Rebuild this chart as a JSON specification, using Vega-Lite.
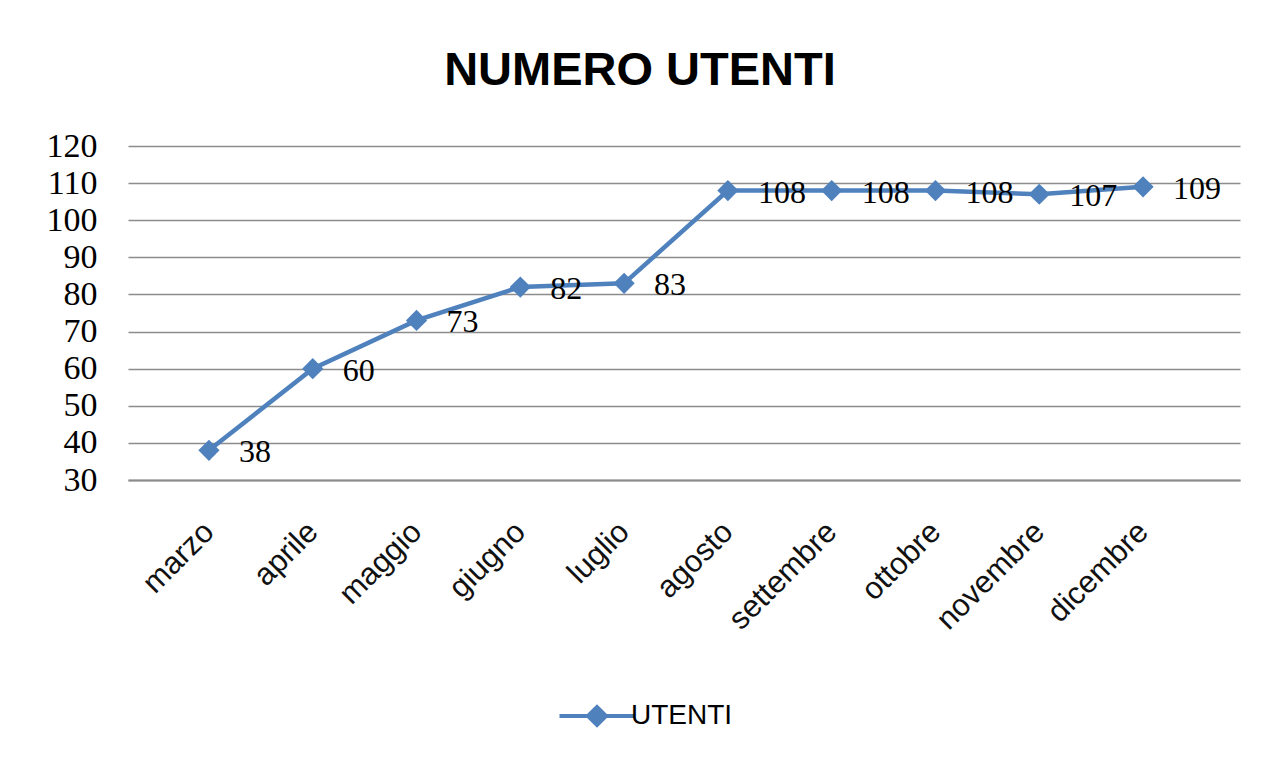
{
  "$schema": "https://vega.github.io/schema/vega-lite/v6.json",
  "autosize": "none",
  "width": 1112,
  "height": 334,
  "padding": {"left": 128, "top": 146, "right": 35, "bottom": 282},
  "background": "white",
  "config": {"view": {"stroke": null}},
  "title": {
    "text": "NUMERO UTENTI",
    "font": "Liberation Sans",
    "fontSize": 47,
    "fontWeight": "bold",
    "color": "black",
    "anchor": "middle",
    "frame": "group",
    "baseline": "alphabetic",
    "offset": 59,
    "dx": -44,
    "dy": 62
  },
  "data": {
    "values": [
      {"mese": "marzo", "utenti": 38},
      {"mese": "aprile", "utenti": 60},
      {"mese": "maggio", "utenti": 73},
      {"mese": "giugno", "utenti": 82},
      {"mese": "luglio", "utenti": 83},
      {"mese": "agosto", "utenti": 108},
      {"mese": "settembre", "utenti": 108},
      {"mese": "ottobre", "utenti": 108},
      {"mese": "novembre", "utenti": 107},
      {"mese": "dicembre", "utenti": 109}
    ]
  },
  "encoding": {
    "x": {
      "field": "mese",
      "type": "ordinal",
      "sort": null,
      "scale": {"type": "point", "padding": 0.857, "align": 0.455},
      "axis": {
        "title": null,
        "labelAngle": -45,
        "labelAlign": "right",
        "labelBaseline": "middle",
        "labelFont": "Liberation Sans",
        "labelFontSize": 31,
        "labelColor": "#111111",
        "labelPadding": 47,
        "labelOffset": 0,
        "ticks": false,
        "domain": true,
        "domainColor": "#8c8c8c",
        "domainWidth": 2,
        "grid": false
      }
    },
    "y": {
      "field": "utenti",
      "type": "quantitative",
      "scale": {"domain": [30, 120], "nice": false, "zero": false},
      "axis": {
        "title": null,
        "values": [30, 40, 50, 60, 70, 80, 90, 100, 110, 120],
        "labelFont": "Liberation Serif",
        "labelFontSize": 34,
        "labelColor": "black",
        "labelPadding": 31,
        "ticks": false,
        "domain": false,
        "grid": true,
        "gridColor": "#8c8c8c",
        "gridWidth": 1.5
      }
    }
  },
  "layer": [
    {
      "mark": {"type": "line", "strokeWidth": 4.5},
      "encoding": {
        "color": {
          "datum": "UTENTI",
          "scale": {"range": ["#4F81BD"]},
          "legend": {
            "title": null,
            "orient": "none",
            "legendX": 455,
            "legendY": 556,
            "padding": 0,
            "symbolType": "M-3.75,0L3.75,0M-0.9,0L0,-0.9L0.9,0L0,0.9Z",
            "symbolSize": 400,
            "symbolStrokeWidth": 4,
            "symbolFillColor": "#4F81BD",
            "symbolStrokeColor": "#4F81BD",
            "labelFont": "Liberation Sans",
            "labelFontSize": 28,
            "labelColor": "black",
            "labelOffset": 20
          }
        }
      }
    },
    {
      "mark": {"type": "point", "shape": "diamond", "filled": true, "size": 450, "opacity": 1},
      "encoding": {
        "color": {"datum": "UTENTI"}
      }
    },
    {
      "mark": {
        "type": "text",
        "align": "left",
        "baseline": "middle",
        "dx": 30,
        "dy": 2,
        "font": "Liberation Serif",
        "fontSize": 32,
        "color": "black"
      },
      "encoding": {
        "text": {"field": "utenti", "type": "quantitative"}
      }
    }
  ]
}
